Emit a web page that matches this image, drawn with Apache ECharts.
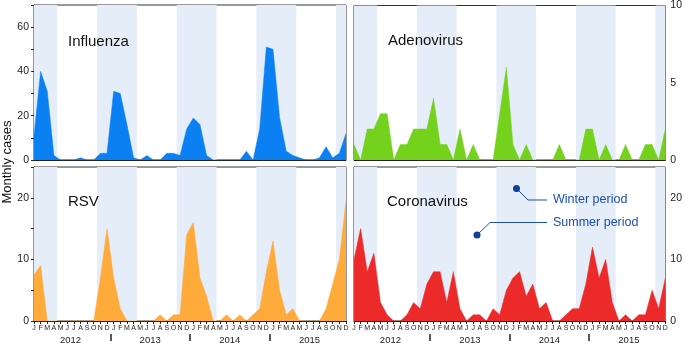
<!DOCTYPE html>
<html lang="en">
<head>
    <meta charset="utf-8">
    <title>Monthly cases</title>
    <script src="https://cdn.jsdelivr.net/npm/echarts@6/dist/echarts.min.js"></script>
    <style>
        html, body { margin: 0; padding: 0; background: #fff; }
        #chart { width: 685px; height: 345px; }
    </style>
</head>
<body>
<div id="chart"></div>
<script>
    // months Jan 2012 .. Dec 2015
    var months = ['J','F','M','A','M','J','J','A','S','O','N','D'];
    var years = ['2012', '2013', '2014', '2015'];

    var influenza = [11,40,31,2,0,0,0,1,0,0,3,3, 31,30,16,1,0,2,0,0,3,3,2,14, 19,16,2,0,0,0,0,0,4,0,14,51, 50,19,4,2,1,0,0,1,6,1,3,12];
    var adenovirus = [1,0,2,2,3,3,0,1,1,2,2,2, 4,1,1,0,2,0,1,0,0,0,3,6, 1,0,1,0,0,0,0,1,0,0,0,2, 2,0,1,0,0,1,0,0,1,1,0,2];
    var rsv = [7.5,9,0,0,0,0,0,0,0,0,7,15, 7,2,0,0,0,0,0,1,0,1,1,14, 16,7,4,0,0,1,0,1,0,1,2,8, 13,5,1,2,0,0,0,0,2,6,10,19.5];
    var coronavirus = [10,15,8,11,3,1,0,0,1,3,2,6, 8,8,3,8,2,0,1,1,0,2,1,5, 7,8,4,6,2,3,0,0,1,2,2,6, 12,7,10,3,0,1,0,1,1,5,2,7];

    // winter periods (Nov-Apr), in month index units
    var winterPeriods = [[0, 3.5], [9.5, 15.5], [21.5, 27.5], [33.5, 39.5], [45.5, 47]];

    var fontFam = '"Liberation Sans", Arial, sans-serif';
    var shadeColor = '#e5eef8';

    var grids = [
        { left: 34, top: 5, width: 312, height: 155 },
        { left: 354, top: 5, width: 313, height: 155 },
        { left: 34, top: 167, width: 312, height: 156 },
        { left: 354, top: 167, width: 313, height: 155 }
    ];

    var panels = [
        { name: 'Influenza', data: influenza, color: '#0a80f2', max: 70, interval: 10, step: 20, side: 'left' },
        { name: 'Adenovirus', data: adenovirus, color: '#74d11c', max: 10, interval: 2.5, step: 5, side: 'right' },
        { name: 'RSV', data: rsv, color: '#ffab3c', max: 25, interval: 5, step: 10, side: 'left' },
        { name: 'Coronavirus', data: coronavirus, color: '#ec2a2a', max: 25, interval: 5, step: 10, side: 'right' }
    ];

    var chart = echarts.init(document.getElementById('chart'));

    var xAxes = [], yAxes = [], series = [];
    panels.forEach(function (p, g) {
        var bottomRow = g >= 2;
        xAxes.push({
            type: 'value', gridIndex: g, min: 0, max: 47, interval: 1,
            axisLine: { show: true, lineStyle: { color: '#222', width: 1 } },
            axisTick: { show: bottomRow, length: 3, lineStyle: { color: '#222' } },
            axisLabel: {
                show: bottomRow, margin: 4, fontSize: 7, color: '#222', fontFamily: fontFam,
                formatter: function (v) { return months[Math.round(v) % 12]; }
            },
            splitLine: { show: false }
        });
        yAxes.push({
            type: 'value', gridIndex: g, min: 0, max: p.max, interval: p.interval, position: p.side,
            axisLine: { show: true, lineStyle: { color: '#222', width: 1 } },
            axisTick: { show: true, length: 3, lineStyle: { color: '#222' } },
            axisLabel: {
                margin: 5, fontSize: 10.5, color: '#222', fontFamily: fontFam,
                formatter: function (v) { return v % p.step === 0 ? String(v) : ''; }
            },
            splitLine: { show: false }
        });
        // shading for winter periods
        series.push({
            type: 'line', xAxisIndex: g, yAxisIndex: g, z: 1, silent: true,
            symbol: 'none', lineStyle: { opacity: 0 },
            data: p.data.map(function (v, i) { return [i, 0]; }),
            markArea: {
                silent: true,
                itemStyle: { color: shadeColor },
                data: winterPeriods.map(function (w) { return [{ xAxis: w[0] }, { xAxis: w[1] }]; })
            }
        });
        series.push({
            name: p.name, type: 'line', xAxisIndex: g, yAxisIndex: g, z: 3,
            symbol: 'none', smooth: false,
            lineStyle: { color: p.color, width: 0.5 },
            areaStyle: { color: p.color, opacity: 1 },
            data: p.data.map(function (v, i) { return [i, v]; })
        });
    });

    // year rows under the bottom panels
    [2, 3].forEach(function (g) {
        xAxes.push({
            type: 'value', gridIndex: g, min: 0, max: 47, position: 'bottom', offset: 13,
            axisLine: { show: false },
            axisTick: { show: true, customValues: [11.5, 23.5, 35.5], length: 7, lineStyle: { color: '#222', width: 1.5 } },
            axisLabel: {
                customValues: [5.5, 17.5, 29.5, 41.5], margin: 1, fontSize: 9.5, color: '#222', fontFamily: fontFam,
                formatter: function (v) { return years[Math.floor(v / 12)]; }
            },
            splitLine: { show: false }
        });
    });

    var titleText = function (txt, x, y) {
        return { type: 'text', left: x, top: y, z: 10,
            style: { text: txt, fontSize: 15, fontFamily: fontFam, fill: '#111' } };
    };
    var noteBlue = '#1b4fb3';

    chart.setOption({
        animation: false,
        grid: grids.map(function (r) {
            return Object.assign({ show: true, borderColor: '#333', borderWidth: 1, backgroundColor: 'transparent' }, r);
        }),
        xAxis: xAxes,
        yAxis: yAxes,
        series: series,
        graphic: [
            titleText('Influenza', 68, 34),
            titleText('Adenovirus', 388, 33),
            titleText('RSV', 68, 194),
            titleText('Coronavirus', 387, 194),
            {
                type: 'text', x: 7, y: 162, rotation: Math.PI / 2, z: 10,
                style: { text: 'Monthly cases', fontSize: 13, fontFamily: fontFam, fill: '#111', align: 'center', verticalAlign: 'middle' }
            },
            // annotation: winter / summer period
            { type: 'polyline', z: 10, shape: { points: [[516.5, 188.5], [528, 200], [547, 200]] }, style: { stroke: noteBlue, lineWidth: 1, fill: null } },
            { type: 'circle', z: 11, shape: { cx: 516.5, cy: 188.5, r: 3.5 }, style: { fill: '#0f3f9e' } },
            { type: 'text', x: 553, y: 200, z: 10, style: { text: 'Winter period', fontSize: 12.5, fontFamily: fontFam, fill: noteBlue, verticalAlign: 'middle' } },
            { type: 'polyline', z: 10, shape: { points: [[477, 235], [490, 222.5], [547, 222.5]] }, style: { stroke: noteBlue, lineWidth: 1, fill: null } },
            { type: 'circle', z: 11, shape: { cx: 477, cy: 235, r: 3.5 }, style: { fill: '#0f3f9e' } },
            { type: 'text', x: 553, y: 222.5, z: 10, style: { text: 'Summer period', fontSize: 12.5, fontFamily: fontFam, fill: noteBlue, verticalAlign: 'middle' } }
        ]
    });
</script>
</body>
</html>
